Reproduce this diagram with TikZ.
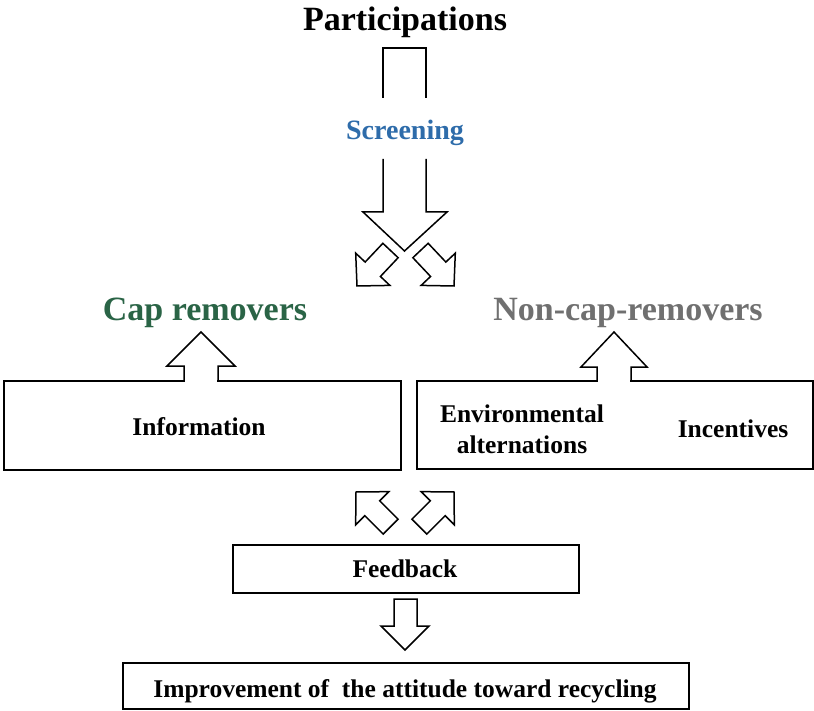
\documentclass[tikz,border=0pt]{standalone}
\usepackage{fontspec}
\setmainfont{Liberation Serif}
\usetikzlibrary{calc}
\definecolor{scrblue}{RGB}{46,108,170}
\definecolor{capgreen}{RGB}{42,100,70}
\definecolor{noncapgray}{RGB}{112,112,112}
\newcommand\diagarrow[2]{%
  \coordinate (hb) at ($(#2)!23pt!(#1)$);
  \draw[blk] ($(#1)!10.5pt!90:(#2)$) -- ($(hb)!10.5pt!90:(#2)$) -- ($(hb)!23.5pt!90:(#2)$) -- (#2)
    -- ($(hb)!23.5pt!-90:(#2)$) -- ($(hb)!10.5pt!-90:(#2)$) -- ($(#1)!10.5pt!-90:(#2)$) -- cycle;}
\begin{document}
\begin{tikzpicture}[x=1pt,y=-1pt,
  box/.style={draw, line width=1.5pt, inner sep=0pt},
  blk/.style={draw, line width=1.5pt, fill=white, line join=miter},
  opn/.style={draw, line width=1.5pt, line join=miter},
  big/.style={font=\bfseries\fontsize{34}{40}\selectfont, anchor=base, inner sep=0pt},
  txt/.style={font=\bfseries\fontsize{25.5}{31}\selectfont, anchor=base, inner sep=0pt, align=center}]
\useasboundingbox (0,0) rectangle (814,711);

% titles
\node[big] (part) at (405,31) {Participations};
\node[font=\bfseries\fontsize{28}{32}\selectfont, anchor=base, inner sep=0pt, text=scrblue] (scr) at (405,140) {Screening};
\node[big, text=capgreen] (cap) at (205,320) {Cap removers};
\node[big, text=noncapgray] (noncap) at (628,320) {Non-cap-removers};

% top bracket stem
\draw[opn] (383,98) -- (383,48) -- (426,48) -- (426,98);
% lower big arrow
\draw[opn] (383,159) -- (383,212) -- (363,212) -- (404.5,251) -- (447,212) -- (426,212) -- (426,159);

% upper diagonal arrows
\coordinate (t1) at (390.5,250.5); \coordinate (p1) at (357,286);
\coordinate (t2) at (420.5,250.5); \coordinate (p2) at (454,286);
\diagarrow{t1}{p1}
\diagarrow{t2}{p2}

% boxes
\node[box, minimum width=397pt, minimum height=89pt, anchor=north west] (infobox) at (3,380) {};
\node[box, minimum width=396pt, minimum height=88pt, anchor=north west] (envbox) at (416,380) {};
\node[txt] (info) at (199,435) {Information};
\node[txt] (env1) at (522,422) {Environmental};
\node[txt] (env2) at (522,453) {alternations};
\node[txt] (inc) at (733,437) {Incentives};

% up arrows on the boxes
\fill[white] (184.8,378) rectangle (217.2,382.5);
\draw[opn] (184,380) -- (184,366) -- (167,366) -- (201,332) -- (235,366) -- (218,366) -- (218,380);
\fill[white] (597.8,378) rectangle (630.2,382.5);
\draw[opn] (597,380) -- (597,367) -- (581,367) -- (614,332) -- (647,367) -- (631,367) -- (631,380);

% lower diagonal arrows
\coordinate (t3) at (390.6,526.6); \coordinate (p3) at (356,492);
\coordinate (t4) at (419.4,526.6); \coordinate (p4) at (454,492);
\diagarrow{t3}{p3}
\diagarrow{t4}{p4}

% feedback
\node[box, minimum width=346pt, minimum height=48pt, anchor=north west] (fbbox) at (232,544) {};
\node[txt] (fb) at (405,577) {Feedback};

% down arrow
\draw[blk] (394,599) -- (417,599) -- (417,626) -- (429,626) -- (405,650) -- (381,626) -- (394,626) -- cycle;

% final box
\node[box, minimum width=566pt, minimum height=46pt, anchor=north west] (impbox) at (122,662) {};
\node[txt] (imp) at (405,697) {Improvement of\ \ the attitude toward recycling};
\end{tikzpicture}
\end{document}
